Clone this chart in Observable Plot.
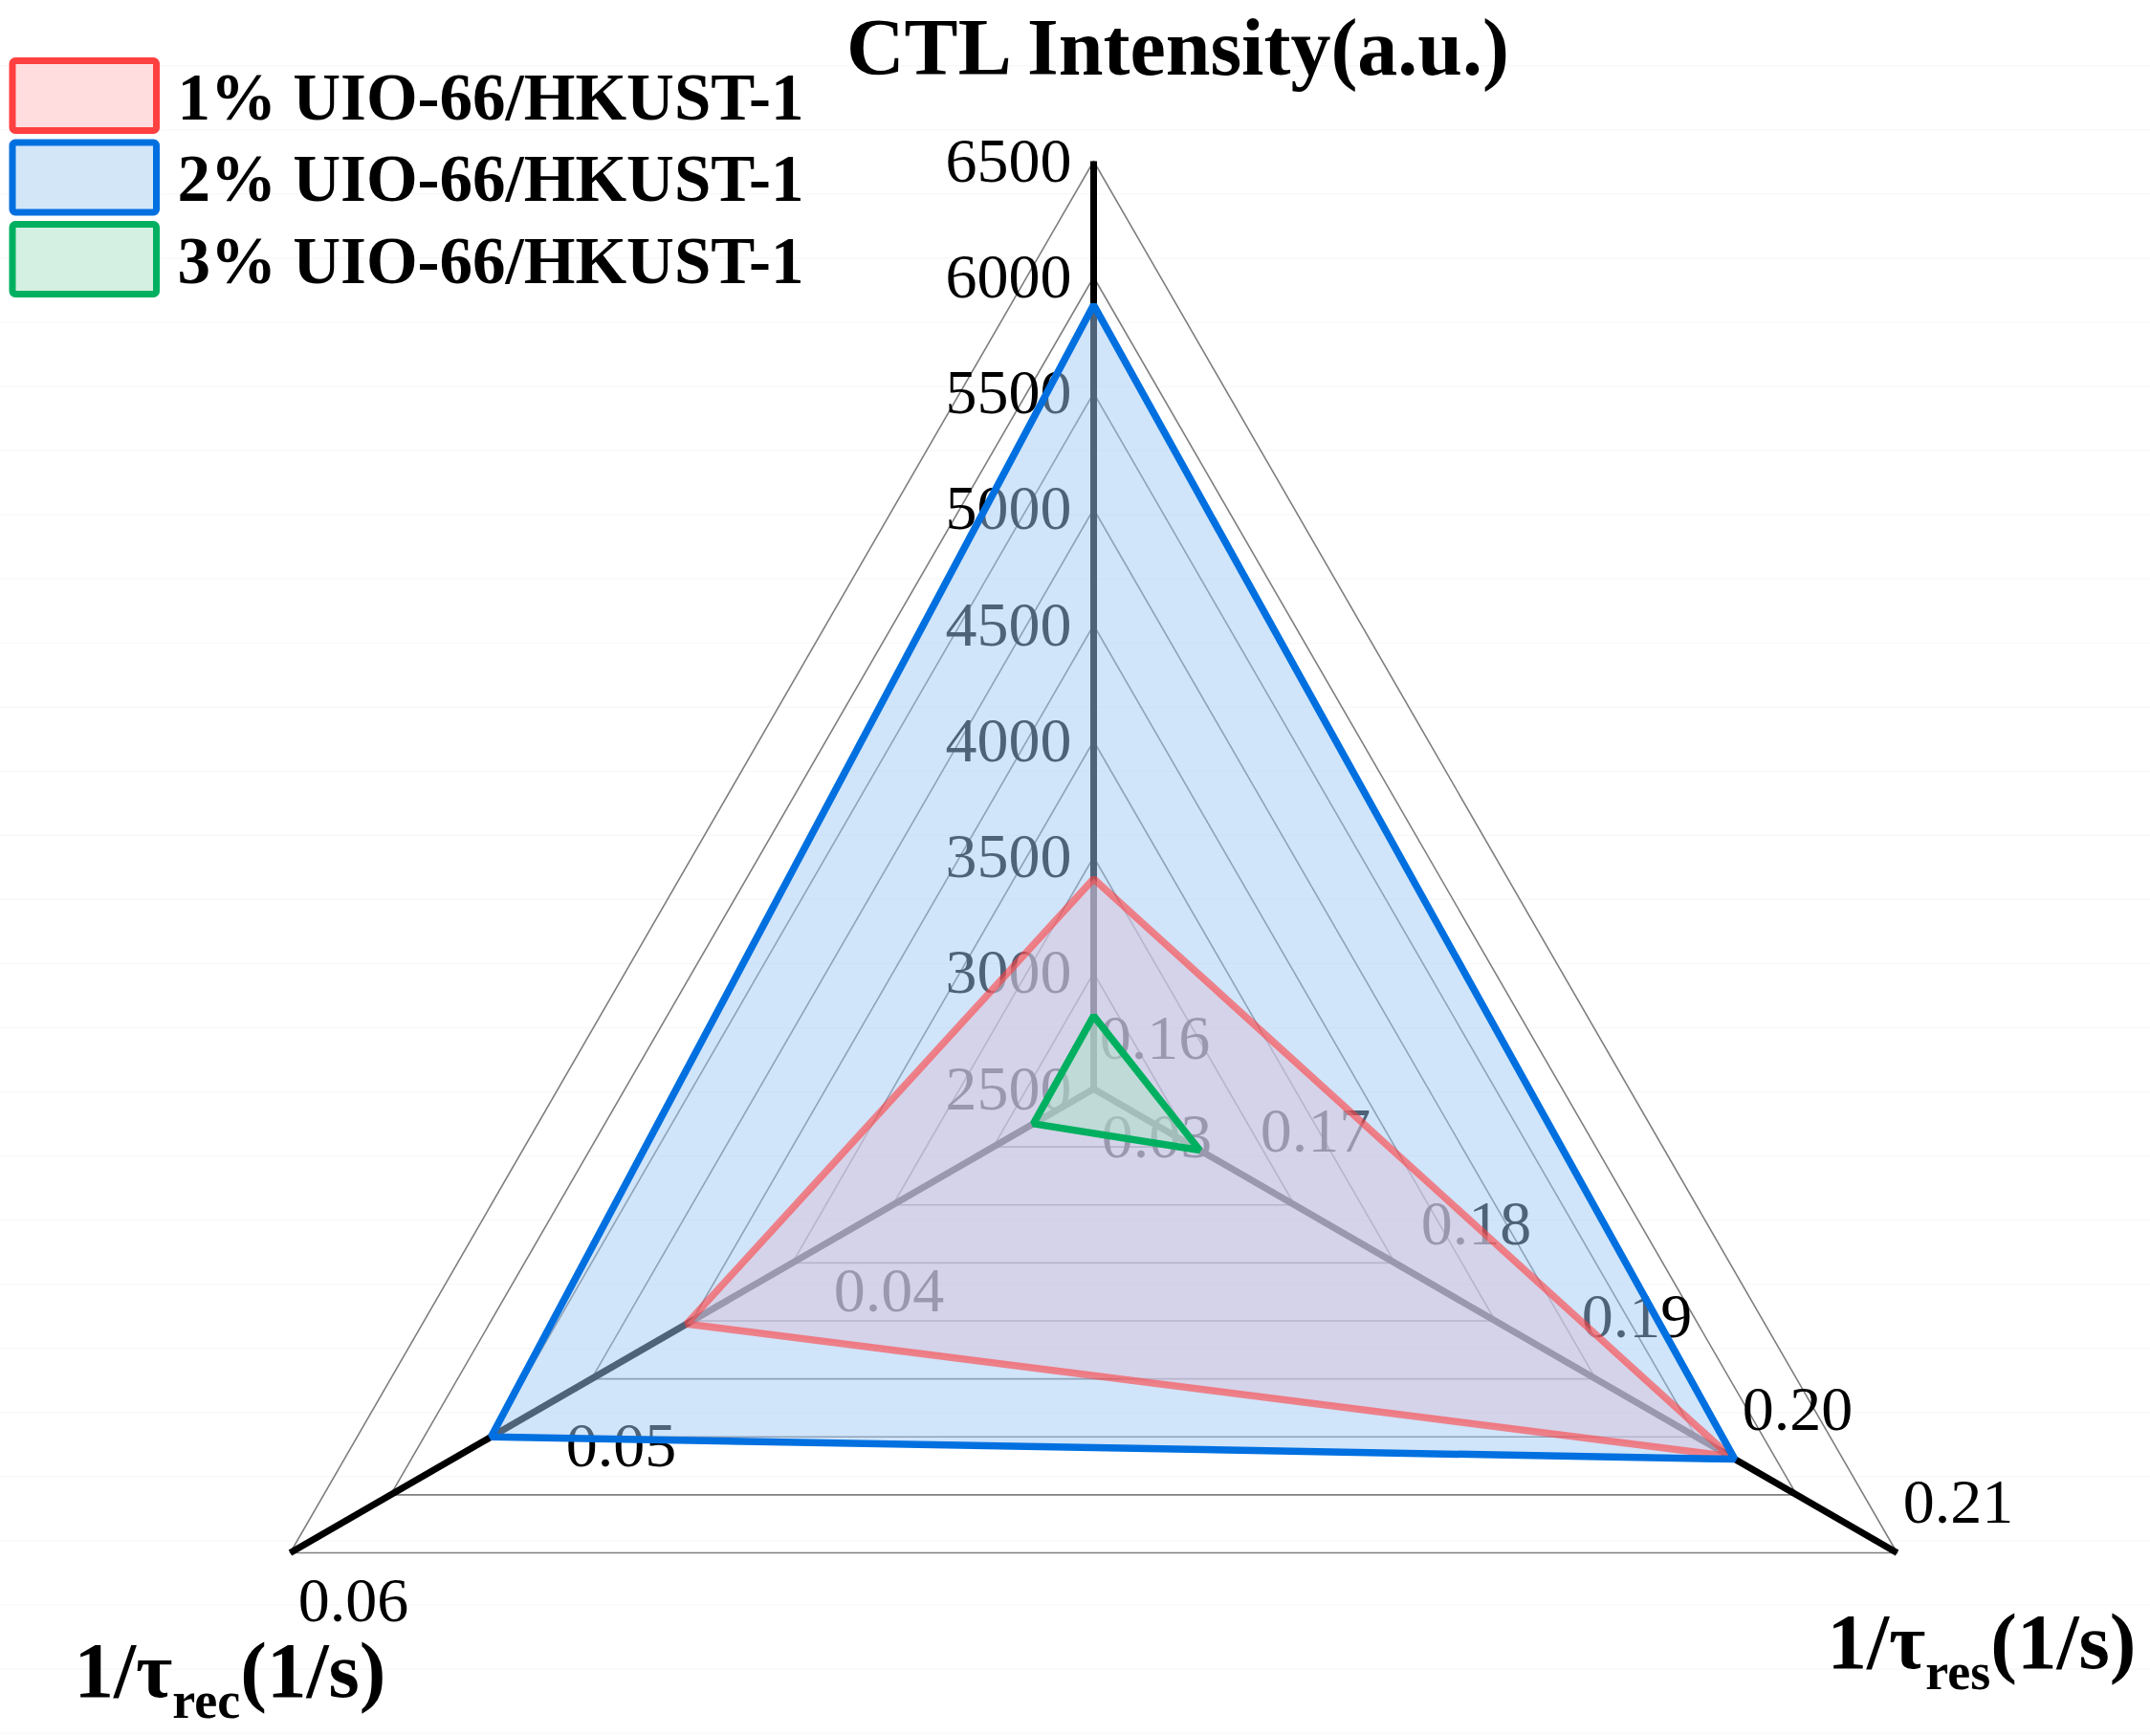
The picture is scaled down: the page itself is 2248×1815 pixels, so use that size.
<!DOCTYPE html>
<html><head><meta charset="utf-8">
<script src="https://cdn.jsdelivr.net/npm/d3@7"></script>
<script src="https://cdn.jsdelivr.net/npm/@observablehq/plot@0.6"></script>
<style>html,body{margin:0;padding:0;background:#fff;overflow:hidden}</style>
</head><body><div id="chart"></div>
<script>
// ---- data ----
const axisTitles = ["CTL Intensity(a.u.)", "1/τres(1/s)", "1/τrec(1/s)"];
const ctlTicks = [2500, 3000, 3500, 4000, 4500, 5000, 5500, 6000, 6500];
const resTicks = [0.16, 0.17, 0.18, 0.19, 0.20, 0.21];
const recTicks = [0.03, 0.04, 0.05, 0.06];
const seriesNames = ["1% UIO-66/HKUST-1", "2% UIO-66/HKUST-1", "3% UIO-66/HKUST-1"];
const ctlValues = [3406, 5880, 2815];
const resValues = [0.1996, 0.1999, 0.1666];
const recValues = [0.0452, 0.0525, 0.03225];

// ---- geometry ----
const W = 2248, H = 1815, CX = 1143, CY = 1138, R = 970;
const axes = [
  {ticks: ctlTicks, angle: 0,   fmt: d => String(d)},
  {ticks: resTicks, angle: 120, fmt: d3.format(".2f")},
  {ticks: recTicks, angle: 240, fmt: d3.format(".2f")}
];
axes.forEach(a => { a.d0 = a.ticks[0]; a.d1 = a.ticks[a.ticks.length - 1]; a.rad = a.angle * Math.PI / 180; });
function ptFrac(ai, f) {
  const a = axes[ai];
  return {x: f * Math.sin(a.rad), y: f * Math.cos(a.rad)};
}
function pt(ai, v) {
  const a = axes[ai];
  return ptFrac(ai, (v - a.d0) / (a.d1 - a.d0));
}
const ux = px => (px - CX) / R;
const uy = py => (CY - py) / R;

// faint background rules of the source image
const bgRules = d3.range(0, 27).map(k => uy(68.3 + 67.05 * k));

// rings (one per CTL tick interval)
const nRings = ctlTicks.length - 1;
const rings = [];
for (let k = 1; k <= nRings; ++k) for (let ai = 0; ai < 3; ++ai) rings.push({ring: k, ...ptFrac(ai, k / nRings)});

const axisLines = axes.map((a, ai) => { const p = ptFrac(ai, 1); return {x1: 0, y1: 0, x2: p.x, y2: p.y}; });

const tickLabels = [0, 1, 2].map(ai => axes[ai].ticks.map(t => ({...pt(ai, t), label: axes[ai].fmt(t)})));

const values = [ctlValues, resValues, recValues];
const polys = seriesNames.map((s, si) => [0, 1, 2].map(ai => ({series: s, ...pt(ai, values[ai][si])})));

const strokeColors = ["#ff4040", "#0070e0", "#00b060"];
const legendFills = ["rgb(255,221,222)", "rgb(210,230,248)", "rgb(212,240,226)"];
const legendRows = seriesNames.map((s, i) => ({name: s, i, cy: 100 + i * 85.5}));

const FONT = "'Liberation Serif', 'Times New Roman', serif";
const SW = 7.5;

const chart = Plot.plot({
  width: W, height: H,
  margin: 0,
  x: {domain: [ux(0), ux(W)], range: [0, W], axis: null},
  y: {domain: [uy(H), uy(0)], range: [H, 0], axis: null},
  style: {fontFamily: FONT, background: "white", color: "black"},
  marks: [
    Plot.ruleY(bgRules, {stroke: "#f7f7f7", strokeWidth: 1.2}),
    // grid rings
    Plot.line(rings, {x: "x", y: "y", z: "ring", curve: "linear-closed", stroke: "#7f7f7f", strokeWidth: 1.6}),
    // axis lines
    Plot.link(axisLines, {x1: "x1", y1: "y1", x2: "x2", y2: "y2", stroke: "black", strokeWidth: 7, strokeLinecap: "butt"}),
    // tick labels
    Plot.text(tickLabels[0], {x: "x", y: "y", text: "label", textAnchor: "end", dx: -23, lineAnchor: "middle", fontSize: 66, fill: "black"}),
    Plot.text(tickLabels[1], {x: "x", y: "y", text: "label", textAnchor: "middle", dx: 64, dy: -53, lineAnchor: "middle", fontSize: 66, fill: "black"}),
    Plot.text(tickLabels[2], {x: "x", y: "y", text: "label", textAnchor: "middle", dx: 66, dy: 50, lineAnchor: "middle", fontSize: 66, fill: "black"}),
    // 2% fill
    Plot.line(polys[1], {x: "x", y: "y", curve: "linear-closed", fill: "rgb(160,200,245)", fillOpacity: 0.49, stroke: "none"}),
    // 1% fill + stroke (semi-transparent)
    Plot.line(polys[0], {x: "x", y: "y", curve: "linear-closed", fill: "rgb(217,197,219)", fillOpacity: 0.55, stroke: strokeColors[0], strokeOpacity: 0.6, strokeWidth: SW, strokeLinejoin: "miter"}),
    // 2% stroke
    Plot.line(polys[1], {x: "x", y: "y", curve: "linear-closed", fill: "none", stroke: strokeColors[1], strokeWidth: SW, strokeLinejoin: "miter"}),
    // 3%
    Plot.line(polys[2], {x: "x", y: "y", curve: "linear-closed", fill: "rgb(169,225,197)", fillOpacity: 0.5, stroke: strokeColors[2], strokeWidth: SW, strokeLinejoin: "miter"}),
    // axis titles
    Plot.text([axisTitles[0]], {frameAnchor: "top-left", dx: 1231, dy: 77, textAnchor: "middle", lineAnchor: "bottom", fontSize: 84, fontWeight: "bold", fill: "black"}),
    Plot.text([axisTitles[1]], {frameAnchor: "top-left", dx: 1910, dy: 1743, textAnchor: "start", lineAnchor: "bottom", fontSize: 83, fontWeight: "bold", fill: "black"}),
    Plot.text([axisTitles[2]], {frameAnchor: "top-left", dx: 77, dy: 1773, textAnchor: "start", lineAnchor: "bottom", fontSize: 83, fontWeight: "bold", fill: "black"}),
    // legend
    Plot.rect(legendRows, {x1: () => ux(13), x2: () => ux(163.5), y1: d => uy(d.cy - 36.5), y2: d => uy(d.cy + 36.5),
      fill: d => legendFills[d.i], stroke: d => strokeColors[d.i], strokeWidth: 7, rx: 3}),
    Plot.text(legendRows, {x: () => ux(185), y: d => uy(d.cy + 24), text: "name", textAnchor: "start", lineAnchor: "bottom", fontSize: 69, fontWeight: "bold", fill: "black"})
  ]
});
document.getElementById("chart").appendChild(chart);

// subscripts in axis titles
d3.select(chart).selectAll("text").each(function () {
  const m = /^1\/τ(res|rec)\(1\/s\)$/.exec(this.textContent);
  if (!m) return;
  const el = d3.select(this);
  el.text(null);
  el.append("tspan").text("1/τ");
  el.append("tspan").attr("font-size", 54).attr("dy", 22).text(m[1]);
  el.append("tspan").attr("dy", -22).text("(1/s)");
});
</script>
</body></html>
